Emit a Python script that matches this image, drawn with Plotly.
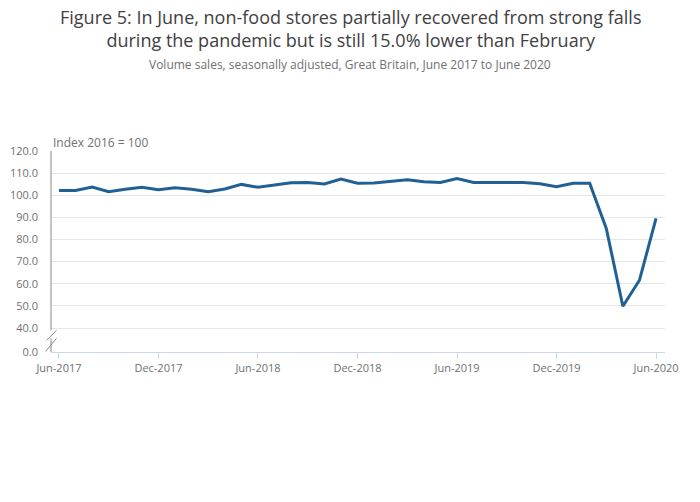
import plotly.graph_objects as go

months = []
mnames = ["Jan", "Feb", "Mar", "Apr", "May", "Jun", "Jul", "Aug", "Sep", "Oct", "Nov", "Dec"]
for y in range(2017, 2021):
    for m in mnames:
        months.append(f"{m}-{y}")
months = months[5:5 + 37]  # Jun-2017 .. Jun-2020

values = [102.2, 102.2, 103.7, 101.6, 102.7, 103.6, 102.5, 103.4, 102.7, 101.6,
          102.8, 104.9, 103.6, 104.5, 105.7, 105.8, 105.1, 107.3, 105.4, 105.5,
          106.1, 107.0, 106.1, 105.8, 107.6, 105.8, 105.8, 105.8, 105.8, 105.2,
          103.9, 105.4, 105.4, 85.0, 49.8, 61.6, 89.5]

x_ticks = ["Jun-2017", "Dec-2017", "Jun-2018", "Dec-2018", "Jun-2019", "Dec-2019", "Jun-2020"]
y_break = 29.15
y_tickvals = [y_break, 40, 50, 60, 70, 80, 90, 100, 110, 120]
y_ticktext = ["0.0", "40.0", "50.0", "60.0", "70.0", "80.0", "90.0", "100.0", "110.0", "120.0"]

title_text = ("Figure 5: In June, non-food stores partially recovered from strong falls<br>"
              "during the pandemic but is still 15.0% lower than February")
subtitle = "Volume sales, seasonally adjusted, Great Britain, June 2017 to June 2020"

fig = go.Figure()
fig.add_trace(go.Scatter(x=months, y=values, mode="lines",
                         line=dict(color="#206095", width=3),
                         hoverinfo="x+y", showlegend=False))

W = 614.0
H = 201.0
px = 1.0 / W
axis_col = "#888888"
shapes = [
    dict(type="line", xref="paper", yref="y", x0=0, x1=0, y0=120, y1=38.9,
         line=dict(color=axis_col, width=1)),
    dict(type="line", xref="paper", yref="y", x0=0, x1=0, y0=35.3, y1=y_break,
         line=dict(color=axis_col, width=1)),
    dict(type="line", xref="paper", yref="y", x0=-4.5 * px, x1=5.5 * px, y0=34.4, y1=38.9,
         line=dict(color=axis_col, width=1)),
    dict(type="line", xref="paper", yref="y", x0=-5.5 * px, x1=5.5 * px, y0=29.4, y1=35.3,
         line=dict(color=axis_col, width=1)),
]

def py(p):
    # page pixel y -> paper y
    return (352 - p) / H

cx = (350 - 51) / W

fig.update_layout(
    width=700, height=502,
    margin=dict(l=51, r=35, t=151, b=150, autoexpand=False),
    paper_bgcolor="white", plot_bgcolor="white",
    font=dict(family="Open Sans", color="#707070", size=11),
    shapes=shapes,
    annotations=[
        dict(text=title_text, xref="paper", yref="paper", x=cx, y=py(28.5),
             xanchor="center", yanchor="middle", showarrow=False,
             font=dict(size=18, color="#414042", family="Open Sans")),
        dict(text=subtitle, xref="paper", yref="paper", x=cx, y=py(64),
             xanchor="center", yanchor="middle", showarrow=False,
             font=dict(size=12, color="#707070", family="Open Sans")),
        dict(text="Index 2016 = 100", xref="paper", yref="paper",
             x=0, y=py(142), xanchor="left", yanchor="middle",
             showarrow=False, font=dict(size=12, color="#707070", family="Open Sans")),
    ],
    xaxis=dict(type="category", categoryorder="array", categoryarray=months,
               range=[-0.48, 36.54], tickvals=x_ticks, ticktext=x_ticks,
               showgrid=False, showline=True, linecolor="#ccd6eb", linewidth=1,
               ticks="outside", ticklen=6, tickcolor="#ccd6eb",
               tickfont=dict(size=11, color="#707070"), zeroline=False,
               automargin=False, fixedrange=True),
    yaxis=dict(range=[y_break, 120], tickvals=y_tickvals, ticktext=y_ticktext,
               showgrid=True, gridcolor="#e6e6e6", gridwidth=1,
               showline=False, zeroline=False, ticks="",
               ticklabelstandoff=12, automargin=False,
               tickfont=dict(size=11, color="#707070"), fixedrange=True),
)

fig.write_html("out.html", config={"displayModeBar": False},
               post_script="document.body.style.margin='0';document.body.style.overflow='hidden';")
